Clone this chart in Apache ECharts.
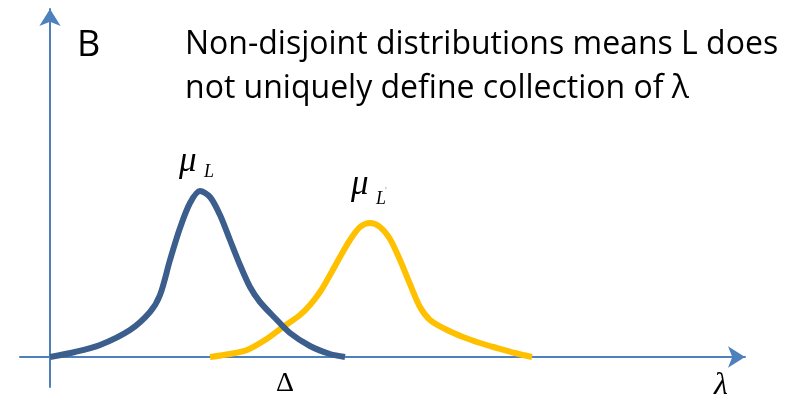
<!DOCTYPE html>
<html>
<head>
<meta charset="utf-8">
<script src="https://cdn.jsdelivr.net/npm/echarts@6/dist/echarts.min.js"></script>
<style>
  html, body { margin: 0; padding: 0; background: #fff; }
  #chart { width: 801px; height: 399px; }
</style>
</head>
<body>
<div id="chart"></div>
<script>
// curve for L (dark blue)
var blueX = [0, 25, 50, 80, 100, 110, 120, 130, 140, 150, 160, 170, 180, 190, 200, 210, 225, 240, 260, 280, 295];
var blueY = [0, 5, 12, 27, 45, 62, 97, 129, 154, 166, 160, 142, 117, 92, 70, 55, 39, 24, 11, 3, 0];
// curve for L' (yellow)
var yellowX = [160, 180, 197, 215, 233, 250, 260, 270, 280, 290, 300, 310, 320, 330, 340, 350, 360, 370, 380, 395, 413, 430, 447, 465, 482];
var yellowY = [0, 3, 7, 17, 30, 42, 52, 65, 82, 100, 117, 130, 134, 130, 118, 97, 73, 50, 37, 28, 20, 14, 9, 4, 0];

var titleLines = ['Non-disjoint distributions means L does', 'not uniquely define collection of λ'];

function pairs(xs, ys) {
    return xs.map(function (x, i) { return [x, ys[i]]; });
}

var chart = echarts.init(document.getElementById('chart'));
var axisColor = '#4E80BD';
var serifIt = '"Liberation Serif", serif';

function txt(x, y, text, font) {
    return { type: 'text', x: x, y: y, style: { text: text, font: font, fill: '#000' } };
}

var option = {
    animation: false,
    grid: { left: 20, right: 56, top: 9, bottom: 12 },
    xAxis: {
        type: 'value',
        min: -30,
        max: 695,
        axisLine: {
            onZero: true,
            lineStyle: { color: axisColor, width: 2 },
            symbol: ['none', 'arrow'],
            symbolSize: [16, 17]
        },
        axisTick: { show: false },
        axisLabel: { show: false },
        splitLine: { show: false }
    },
    yAxis: {
        type: 'value',
        min: -30,
        max: 348,
        axisLine: {
            onZero: true,
            lineStyle: { color: axisColor, width: 2 },
            symbol: ['none', 'arrow'],
            symbolSize: [16, 17]
        },
        axisTick: { show: false },
        axisLabel: { show: false },
        splitLine: { show: false }
    },
    series: [{
        type: 'line',
        data: pairs(blueX, blueY),
        smooth: 0.3,
        showSymbol: false,
        lineStyle: { color: '#3B5E8C', width: 6 },
        z: 3
    }, {
        type: 'line',
        data: pairs(yellowX, yellowY),
        smooth: 0.3,
        showSymbol: false,
        lineStyle: { color: '#FFC000', width: 6 },
        z: 2
    }],
    graphic: [
        txt(77, 28, 'B', '36px "Open Sans", sans-serif'),
        txt(185, 29, titleLines[0], '32px "Open Sans", sans-serif'),
        txt(185, 73, titleLines[1], '32px "Open Sans", sans-serif'),
        txt(179, 144, 'μ', 'italic 35px ' + serifIt),
        txt(204, 163, 'L', 'italic 18px ' + serifIt),
        txt(351, 167, 'μ', 'italic 35px ' + serifIt),
        txt(376, 190, 'L', 'italic 18px ' + serifIt),
        { type: 'text', x: 385, y: 186, style: { text: '\'', font: '10px ' + serifIt, fill: '#999' } },
        txt(276, 370, 'Δ', '28px ' + serifIt),
        txt(714, 370, 'λ', 'italic 32px ' + serifIt)
    ]
};

chart.setOption(option);
</script>
</body>
</html>
